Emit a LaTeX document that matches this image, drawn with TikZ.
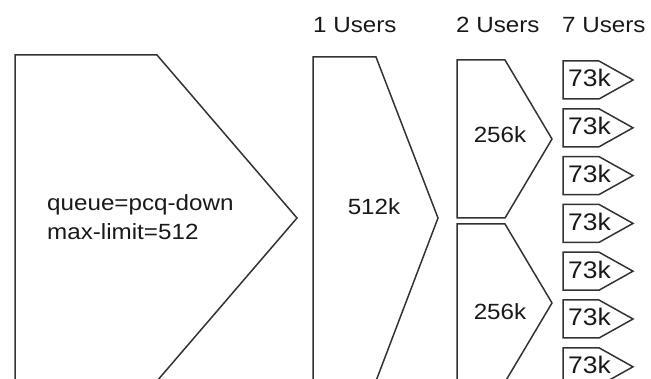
\documentclass[tikz,border=0pt]{standalone}
\usepackage{fontspec}
\setmainfont{Liberation Sans}[FakeStretch=1.1]

\tikzset{
  qline/.style={draw=black!80, line width=1.5pt, line join=miter},
  lbl/.style={inner sep=0pt, text=black!90, font=\fontsize{22}{26}\selectfont},
  kbl/.style={inner sep=0pt, text=black!90, font=\fontsize{24}{28}\selectfont}
}

\begin{document}
\begin{tikzpicture}[x=1pt,y=-1pt]
      \useasboundingbox (0,0) rectangle (651,379);
      \clip (0,0) rectangle (651,379);
      % column headers
      \node[lbl, anchor=base west] (h1) at (313,33) {1 Users};
      \node[lbl, anchor=base west] (h2) at (456,33) {2 Users};
      \node[lbl, anchor=base west] (h7) at (562,33) {7 Users};
      % parent queue
      \draw[qline] (15,55) -- (157,55) -- (297,218) -- (157,381) -- (15,381) -- cycle;
      \node[lbl, anchor=base west] (q1) at (47,211) {queue=pcq-down};
      \node[lbl, anchor=base west] (q2) at (47,240) {max-limit=512};
      % one user
      \draw[qline] (313,57) -- (376,57) -- (438,218) -- (376,381) -- (313,381) -- cycle;
      \node[lbl, anchor=base] (u1) at (374,215) {512k};
      % two users
      \draw[qline]
      (457,60) -- (505,60) -- (552,139) -- (505,218) -- (457,218) -- cycle
      (457,224) -- (505,224) -- (552,303) -- (505,382) -- (457,382) -- cycle;
      \node[lbl, anchor=base] (u2a) at (500,143) {256k};
      \node[lbl, anchor=base] (u2b) at (500,320) {256k};
      % seven users
      \foreach \i in {0,...,6} {
        \pgfmathsetmacro\t{61+47.8*\i}
        \draw[qline] (563,\t) -- ++(36,0) -- ++(34,19) -- ++(-34,19) -- ++(-36,0) -- cycle;
        \node[kbl, anchor=base west] (u7\i) at (568,{\t+26}) {73k};
      }
    \end{tikzpicture}
\end{document}
